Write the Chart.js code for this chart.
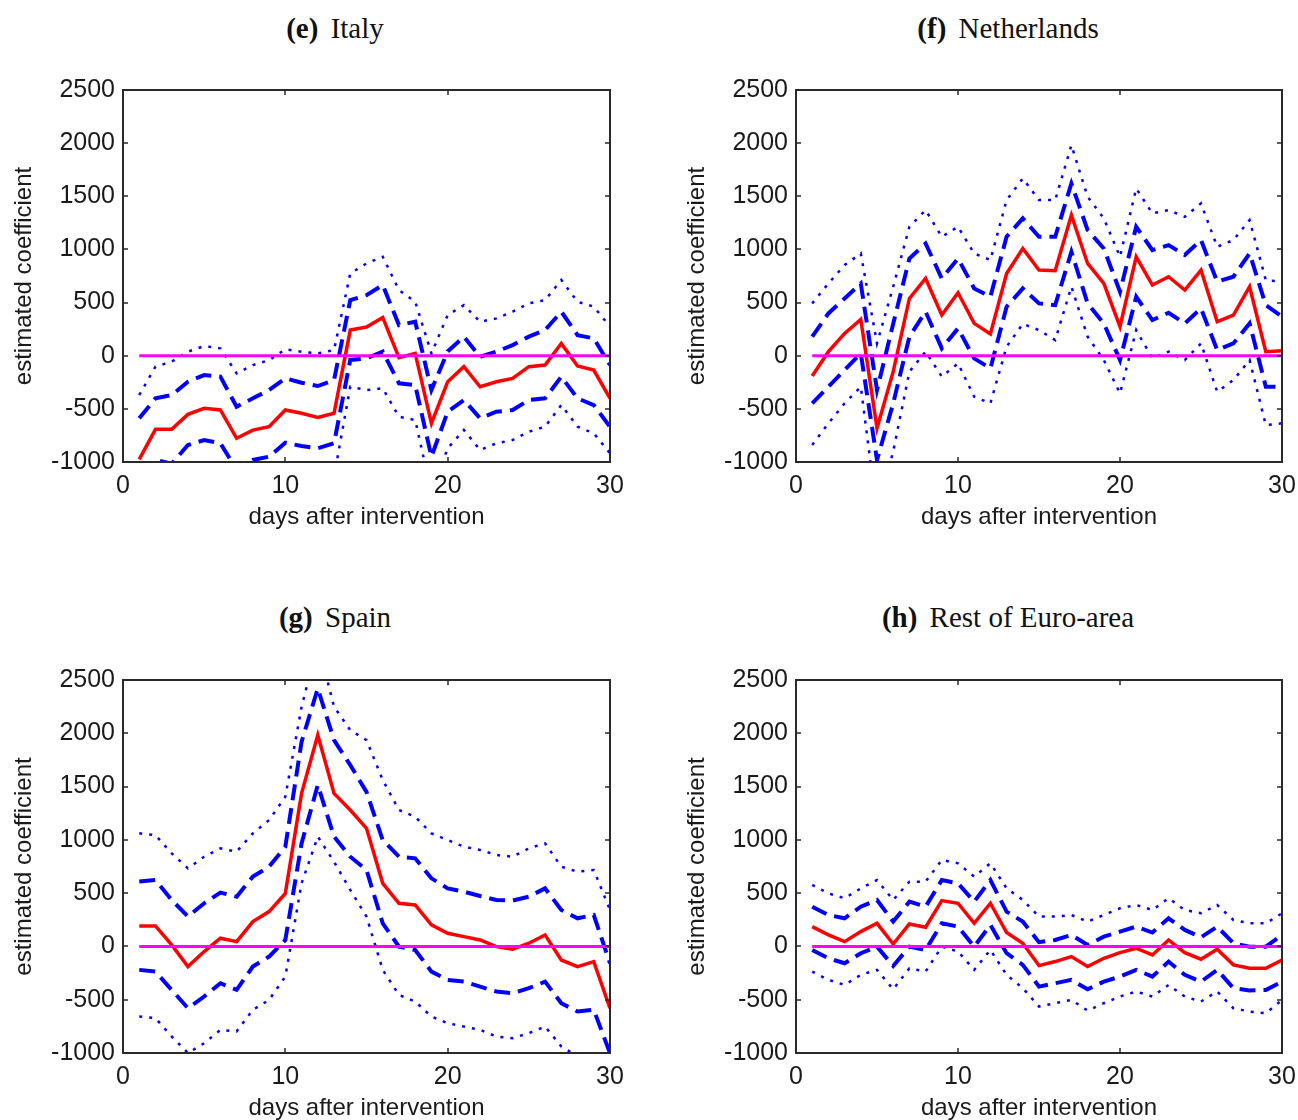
<!DOCTYPE html>
<html>
<head>
<meta charset="utf-8">
<script src="https://cdn.jsdelivr.net/npm/chart.js@4.4.0/dist/chart.umd.min.js"></script>
<style>
    html, body { margin: 0; padding: 0; background: #fff; overflow: hidden; }
    body { width: 1298px; height: 1120px; position: relative; }
    .panel-title {
        position: absolute;
        font-family: 'Liberation Serif', 'DejaVu Serif', serif;
        font-size: 29px;
        color: #111;
        transform: translate(-50%, -50%);
        white-space: nowrap;
    }
    .panel-title b { margin-right: 5px; }
    .panel { position: absolute; }
</style>
</head>
<body>
<div class="panel-title" style="left:335px; top:28px"><b>(e)</b> Italy</div>
<div class="panel-title" style="left:1008px; top:28px"><b>(f)</b> Netherlands</div>
<div class="panel-title" style="left:335px; top:617px"><b>(g)</b> Spain</div>
<div class="panel-title" style="left:1008px; top:617px"><b>(h)</b> Rest of Euro-area</div>

<div class="panel" style="left:0; top:60px"><canvas id="chart-italy" width="650" height="480"></canvas></div>
<div class="panel" style="left:673px; top:60px"><canvas id="chart-netherlands" width="625" height="480"></canvas></div>
<div class="panel" style="left:0; top:650px"><canvas id="chart-spain" width="650" height="481"></canvas></div>
<div class="panel" style="left:673px; top:650px"><canvas id="chart-rest" width="625" height="481"></canvas></div>

<script>
// days after intervention
const days = [1, 2, 3, 4, 5, 6, 7, 8, 9, 10, 11, 12, 13, 14, 15, 16, 17, 18, 19, 20, 21, 22, 23, 24, 25, 26, 27, 28, 29, 30]
const xTicks = [0, 10, 20, 30]
const yTicks = [-1000, -500, 0, 500, 1000, 1500, 2000, 2500]
const referenceLevel = 0

// Italy
const italyEstimate = [-975, -693, -693, -552, -495, -510, -777, -700, -668, -510, -542, -580, -542, 241, 270, 360, -19, 22, -636, -245, -103, -292, -245, -213, -103, -88, 116, -97, -135, -401]
const italyUpper1 = [-589, -401, -370, -245, -182, -197, -480, -401, -323, -213, -254, -285, -229, 523, 570, 665, 288, 320, -323, 40, 179, -10, 38, 100, 179, 241, 414, 194, 163, -88]
const italyLower1 = [-1360, -981, -1016, -840, -793, -824, -1074, -981, -950, -818, -850, -871, -824, -40, -25, 38, -260, -276, -950, -527, -417, -589, -527, -511, -417, -401, -197, -401, -464, -668]
const italyUpper2 = [-370, -103, -56, 38, 91, 69, -166, -88, -41, 60, 38, 22, 53, 774, 868, 931, 618, 508, 22, 382, 476, 320, 351, 414, 492, 523, 712, 508, 461, 273]
const italyLower2 = [-1580, -1283, -1330, -1142, -1081, -1089, -1388, -1312, -1295, -1080, -1122, -1182, -1137, -292, -323, -307, -574, -605, -1290, -871, -699, -887, -824, -793, -715, -668, -464, -668, -730, -918]

// Netherlands
const netherlandsEstimate = [-191, 38, 210, 342, -683, -150, 539, 727, 382, 592, 304, 204, 774, 1009, 806, 800, 1323, 868, 680, 273, 931, 665, 743, 618, 806, 320, 382, 649, 38, 47]
const netherlandsUpper1 = [179, 398, 539, 680, -323, 300, 915, 1056, 727, 915, 633, 555, 1119, 1292, 1119, 1119, 1621, 1182, 1009, 602, 1213, 994, 1041, 947, 1088, 696, 743, 962, 476, 367]
const netherlandsLower1 = [-448, -292, -135, 22, -981, -448, 179, 414, 69, 257, -25, -119, 461, 633, 492, 476, 978, 492, 304, -41, 555, 335, 404, 304, 445, 53, 116, 304, -292, -292]
const netherlandsUpper2 = [492, 680, 853, 962, 116, 649, 1213, 1370, 1119, 1213, 962, 900, 1464, 1668, 1464, 1464, 1981, 1495, 1292, 931, 1574, 1339, 1370, 1307, 1433, 1025, 1088, 1276, 712, 696]
const netherlandsLower2 = [-840, -636, -448, -292, -1480, -900, -150, 38, -197, -72, -386, -448, 85, 300, 241, 147, 649, 179, -41, -354, 241, -25, 38, -41, 116, -339, -229, -41, -652, -636]

// Spain
const spainEstimate = [192, 192, 14, -189, -48, 77, 45, 233, 327, 498, 1436, 1983, 1436, 1280, 1108, 592, 405, 389, 202, 123, 92, 61, -2, -27, 30, 108, -127, -189, -142, -580]
const spainUpper1 = [610, 623, 436, 280, 405, 505, 467, 655, 748, 936, 1920, 2420, 1936, 1702, 1450, 998, 842, 827, 639, 545, 514, 473, 436, 430, 467, 545, 342, 264, 295, -158]
const spainLower1 = [-220, -236, -408, -580, -470, -345, -408, -189, -95, 61, 967, 1514, 1030, 842, 717, 217, -2, -33, -236, -314, -330, -377, -423, -439, -392, -330, -533, -611, -595, -1001]
const spainUpper2 = [1061, 1045, 873, 733, 842, 920, 889, 1061, 1186, 1405, 2248, 2850, 2249, 2030, 1936, 1561, 1280, 1217, 1061, 998, 936, 905, 858, 842, 920, 967, 748, 702, 717, 342]
const spainLower2 = [-658, -673, -845, -1001, -908, -783, -798, -595, -502, -283, 592, 1030, 795, 530, 280, -220, -455, -517, -658, -720, -752, -783, -845, -861, -814, -752, -939, -1030, -1100, -1500]

// Rest of Euro-area
const restEstimate = [186, 108, 45, 139, 217, 23, 211, 180, 430, 405, 217, 405, 130, 30, -180, -142, -95, -189, -111, -58, -17, -80, 61, -58, -120, -27, -173, -205, -205, -127]
const restUpper1 = [373, 295, 264, 373, 436, 233, 420, 373, 623, 592, 420, 623, 327, 233, 40, 61, 108, 14, 92, 139, 186, 130, 264, 155, 86, 186, 30, -2, -2, 108]
const restLower1 = [-33, -111, -158, -64, -2, -183, -2, -33, 217, 186, -2, 202, -64, -173, -377, -345, -314, -402, -330, -283, -220, -283, -142, -267, -330, -220, -392, -414, -408, -330]
const restUpper2 = [577, 498, 452, 545, 623, 436, 608, 608, 811, 780, 655, 780, 545, 436, 280, 280, 295, 233, 295, 358, 389, 342, 452, 342, 311, 389, 248, 217, 217, 311]
const restLower2 = [-236, -314, -361, -267, -220, -402, -205, -236, -2, -48, -220, -33, -267, -392, -564, -533, -502, -602, -533, -470, -423, -470, -361, -470, -517, -423, -580, -611, -627, -502]

const tickFont = { family: "'Liberation Sans', Arial, sans-serif", size: 25 }
const titleFont = { family: "'Liberation Sans', Arial, sans-serif", size: 24 }
const textColor = '#1a1a1a'

// matlab style box: frame on all four sides, ticks pointing inwards
const axesBox = {
    id: 'axesBox',
    afterDatasetsDraw(chart) {
        const { ctx, chartArea, scales } = chart
        const { left, right, top, bottom } = chartArea
        const len = 5
        ctx.save()
        ctx.strokeStyle = '#2a2a2a'
        ctx.lineWidth = 2
        ctx.strokeRect(left, top, right - left, bottom - top)
        ctx.lineWidth = 1.5
        ctx.beginPath()
        scales.x.ticks.forEach(t => {
            const px = Math.round(scales.x.getPixelForValue(t.value))
            ctx.moveTo(px, bottom)
            ctx.lineTo(px, bottom - len)
            ctx.moveTo(px, top)
            ctx.lineTo(px, top + len)
        })
        scales.y.ticks.forEach(t => {
            const py = Math.round(scales.y.getPixelForValue(t.value))
            ctx.moveTo(left, py)
            ctx.lineTo(left + len, py)
            ctx.moveTo(right, py)
            ctx.lineTo(right - len, py)
        })
        ctx.stroke()
        ctx.restore()
    }
}

function toPoints(values) {
    return values.map((v, i) => ({ x: days[i], y: v }))
}

function lineDataset(values, style) {
    return Object.assign({
        data: toPoints(values),
        pointRadius: 0,
        tension: 0,
        fill: false,
        clip: 0,
        borderCapStyle: 'butt'
    }, style)
}

function createPanel(canvasId, estimate, upper1, lower1, upper2, lower2, padRight) {
    const canvas = document.getElementById(canvasId)
    const solid = { borderColor: '#ff0000', borderWidth: 3.5, order: 1 }
    const dashed = { borderColor: '#0000ff', borderWidth: 4, borderDash: [16, 8], order: 2 }
    const dotted = { borderColor: '#0000ff', borderWidth: 2.5, borderDash: [3, 7], order: 3 }

    new Chart(canvas, {
        type: 'line',
        data: {
            datasets: [
                {
                    data: [
                        { x: days[0], y: referenceLevel },
                        { x: days[days.length - 1], y: referenceLevel }
                    ],
                    borderColor: '#ff00ff',
                    borderWidth: 3,
                    pointRadius: 0,
                    clip: 0,
                    order: 0
                },
                lineDataset(estimate, solid),
                lineDataset(upper1, dashed),
                lineDataset(lower1, dashed),
                lineDataset(upper2, dotted),
                lineDataset(lower2, dotted)
            ]
        },
        options: {
            responsive: false,
            animation: false,
            layout: { padding: { top: 30, right: padRight, left: 0, bottom: 0 } },
            plugins: {
                legend: { display: false },
                tooltip: { enabled: false }
            },
            scales: {
                x: {
                    type: 'linear',
                    min: xTicks[0],
                    max: xTicks[xTicks.length - 1],
                    afterBuildTicks: scale => { scale.ticks = xTicks.map(v => ({ value: v })) },
                    ticks: { font: tickFont, color: textColor, padding: 9, maxRotation: 0, callback: v => String(v) },
                    grid: { display: false, drawTicks: false },
                    border: { display: false },
                    title: {
                        display: true,
                        text: 'days after intervention',
                        font: titleFont,
                        color: textColor,
                        padding: { top: 0, bottom: 8 }
                    },
                    afterFit: scale => {
                        scale.height = 78
                        scale.paddingLeft = 0
                        scale.paddingRight = 0
                    }
                },
                y: {
                    type: 'linear',
                    min: yTicks[0],
                    max: yTicks[yTicks.length - 1],
                    afterBuildTicks: scale => { scale.ticks = yTicks.map(v => ({ value: v })) },
                    ticks: { font: tickFont, color: textColor, padding: 8, callback: v => String(v) },
                    grid: { display: false, drawTicks: false },
                    border: { display: false },
                    title: {
                        display: true,
                        text: 'estimated coefficient',
                        font: titleFont,
                        color: textColor,
                        padding: { top: 10, bottom: 0 }
                    },
                    afterFit: scale => {
                        scale.width = 123
                        scale.paddingTop = 0
                        scale.paddingBottom = 0
                    }
                }
            }
        },
        plugins: [axesBox]
    })
}

createPanel('chart-italy', italyEstimate, italyUpper1, italyLower1, italyUpper2, italyLower2, 40)
createPanel('chart-netherlands', netherlandsEstimate, netherlandsUpper1, netherlandsLower1, netherlandsUpper2, netherlandsLower2, 16)
createPanel('chart-spain', spainEstimate, spainUpper1, spainLower1, spainUpper2, spainLower2, 40)
createPanel('chart-rest', restEstimate, restUpper1, restLower1, restUpper2, restLower2, 16)
</script>
</body>
</html>
